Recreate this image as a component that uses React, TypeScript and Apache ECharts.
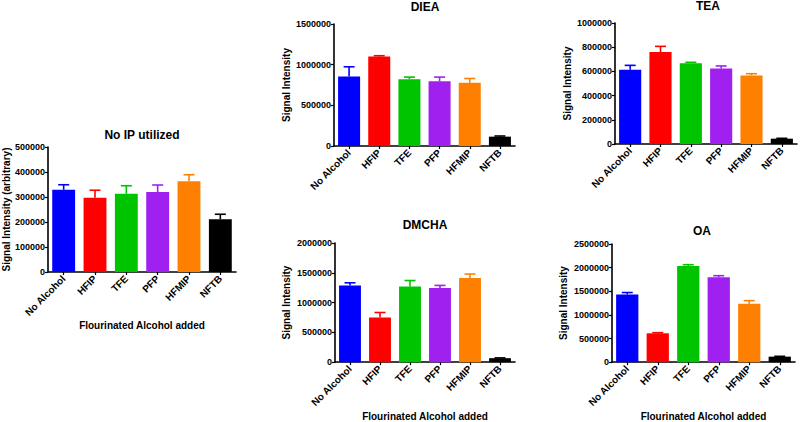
import React, { useEffect, useRef } from "react";
import * as echarts from "echarts";

const categories = ["No Alcohol", "HFIP", "TFE", "PFP", "HFMIP", "NFTB"];
const barColors = ["#0000ff", "#ff0000", "#00c400", "#a020f0", "#ff8000", "#000000"];

const noIpValues = [329000, 297000, 313000, 320000, 363000, 211000];
const noIpErrTop = [349000, 327000, 345000, 348000, 389000, 231000];

const dieaValues = [855000, 1101000, 822000, 797000, 777000, 115000];
const dieaErrTop = [974000, 1110000, 847000, 847000, 830000, 123000];

const teaValues = [614000, 760000, 667000, 625000, 567000, 44000];
const teaErrTop = [650000, 807000, 675000, 645000, 581000, 47000];

const dmchaValues = [1288000, 751000, 1271000, 1244000, 1414000, 66000];
const dmchaErrTop = [1332000, 833000, 1370000, 1288000, 1479000, 71000];

const oaValues = [1431000, 610000, 2034000, 1795000, 1233000, 116000];
const oaErrTop = [1473000, 623000, 2062000, 1829000, 1301000, 123000];

const FONT = "Liberation Sans, Arial, sans-serif";

type Panel = {
  title: string;
  values: number[];
  err: number[];
  max: number;
  interval: number;
  yName: string;
  xName: string;
  grid: { left: number; top: number; width: number; height: number };
  titlePos: { x: number; y: number };
  yGap: number;
};

const panels: Panel[] = [
  {
    title: "No IP utilized", values: noIpValues, err: noIpErrTop, max: 500000, interval: 100000,
    yName: "Signal Intensity (arbitrary)", xName: "Flourinated Alcohol added",
    grid: { left: 48, top: 147, width: 188, height: 125 }, titlePos: { x: 142, y: 129 }, yGap: 37,
  },
  {
    title: "DIEA", values: dieaValues, err: dieaErrTop, max: 1500000, interval: 500000,
    yName: "Signal Intensity", xName: "",
    grid: { left: 334, top: 24, width: 181, height: 122 }, titlePos: { x: 425, y: 1 }, yGap: 43,
  },
  {
    title: "TEA", values: teaValues, err: teaErrTop, max: 1000000, interval: 200000,
    yName: "Signal Intensity", xName: "",
    grid: { left: 615, top: 23, width: 182, height: 121 }, titlePos: { x: 708, y: 0 }, yGap: 43,
  },
  {
    title: "DMCHA", values: dmchaValues, err: dmchaErrTop, max: 2000000, interval: 500000,
    yName: "Signal Intensity", xName: "Flourinated Alcohol added",
    grid: { left: 335, top: 243, width: 180, height: 122 }, titlePos: { x: 425, y: 219 }, yGap: 44,
  },
  {
    title: "OA", values: oaValues, err: oaErrTop, max: 2500000, interval: 500000,
    yName: "Signal Intensity", xName: "Flourinated Alcohol added",
    grid: { left: 612, top: 244, width: 183, height: 122 }, titlePos: { x: 702, y: 225 }, yGap: 44,
  },
];

export default function App() {
  const ref = useRef<HTMLDivElement>(null);
  useEffect(() => {
    if (!ref.current) return;
    const chart = echarts.init(ref.current, undefined, { renderer: "svg" });
    const axisLineStyle = { color: "#000", width: 1.6 };
    const option: any = {
      animation: false,
      backgroundColor: "#fff",
      title: panels.map((p) => ({
        text: p.title,
        left: p.titlePos.x,
        top: p.titlePos.y,
        padding: 0,
        textAlign: "center",
        textStyle: { fontFamily: FONT, fontWeight: "bold", fontSize: 12, color: "#000" },
      })),
      grid: panels.map((p) => ({ ...p.grid, containLabel: false })),
      xAxis: panels.map((p, i) => ({
        type: "category",
        gridIndex: i,
        data: categories,
        name: p.xName,
        nameLocation: "middle",
        nameGap: 48,
        nameTextStyle: { fontFamily: FONT, fontWeight: "bold", fontSize: 10, color: "#000" },
        axisLine: { show: true, lineStyle: axisLineStyle },
        axisTick: { show: true, alignWithLabel: true, length: 3, lineStyle: { color: "#000", width: 1.2 } },
        axisLabel: {
          rotate: 45, interval: 0, margin: 5,
          fontFamily: FONT, fontWeight: "bold", fontSize: 10, color: "#000",
        },
      })),
      yAxis: panels.map((p, i) => ({
        type: "value",
        gridIndex: i,
        min: 0,
        max: p.max,
        interval: p.interval,
        name: p.yName,
        nameLocation: "middle",
        nameGap: p.yGap,
        nameTextStyle: { fontFamily: FONT, fontWeight: "bold", fontSize: 10, color: "#000" },
        axisLine: { show: true, lineStyle: axisLineStyle },
        axisTick: { show: true, length: 3, lineStyle: { color: "#000", width: 1.2 } },
        splitLine: { show: false },
        axisLabel: {
          margin: 3, fontFamily: FONT, fontWeight: "bold", fontSize: 9, color: "#000",
          formatter: (v: number) => String(v),
        },
      })),
      series: panels.flatMap((p, i) => [
        {
          type: "bar",
          xAxisIndex: i,
          yAxisIndex: i,
          barCategoryGap: "27%",
          data: p.values.map((v, k) => ({ value: v, itemStyle: { color: barColors[k] } })),
          z: 2,
        },
        {
          type: "custom",
          xAxisIndex: i,
          yAxisIndex: i,
          z: 3,
          encode: { x: 0, y: [1, 2] },
          data: p.values.map((v, k) => [k, v, p.err[k]]),
          renderItem: (params: any, api: any) => {
            const x = api.value(0);
            const p0 = api.coord([x, api.value(1)]);
            const p1 = api.coord([x, api.value(2)]);
            const color = barColors[params.dataIndex];
            return {
              type: "group",
              children: [
                { type: "line", shape: { x1: p0[0], y1: p0[1], x2: p1[0], y2: p1[1] }, style: { stroke: color, lineWidth: 1.6 } },
                { type: "line", shape: { x1: p1[0] - 5.5, y1: p1[1], x2: p1[0] + 5.5, y2: p1[1] }, style: { stroke: color, lineWidth: 1.6 } },
              ],
            };
          },
        },
      ]),
    };
    chart.setOption(option);
    return () => chart.dispose();
  }, []);
  return <div ref={ref} style={{ position: "absolute", left: 0, top: 0, width: 800, height: 422 }} />;
}
